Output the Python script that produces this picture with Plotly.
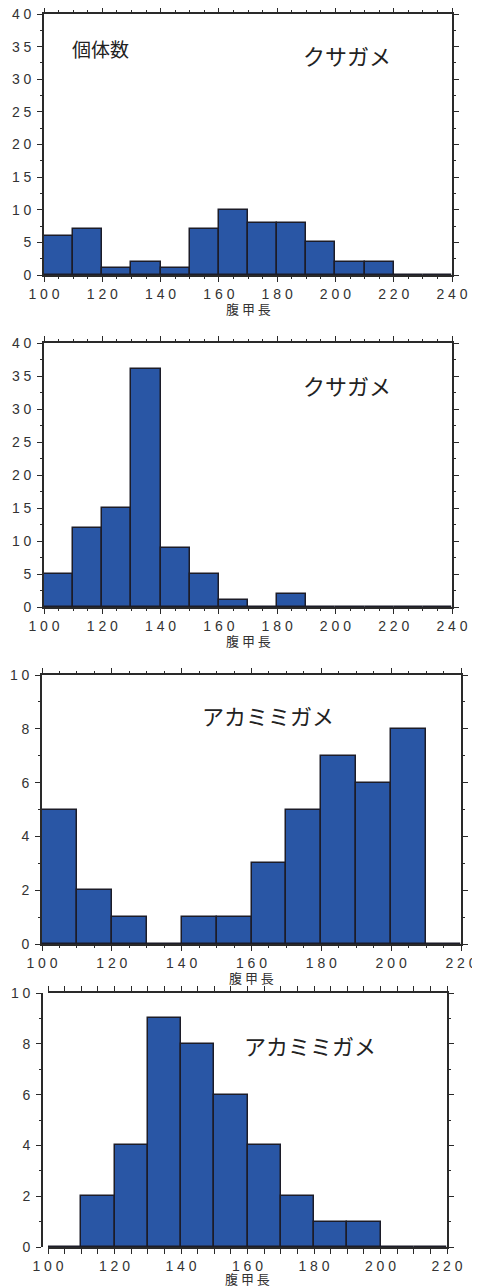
import plotly.graph_objects as go

# ---------------- data ----------------
bin_width = 10
kusa1_starts = [100, 110, 120, 130, 140, 150, 160, 170, 180, 190, 200, 210, 220, 230]
kusa1_counts = [6, 7, 1, 2, 1, 7, 10, 8, 8, 5, 2, 2, 0, 0]

kusa2_starts = [100, 110, 120, 130, 140, 150, 160, 170, 180, 190, 200, 210, 220, 230]
kusa2_counts = [5, 12, 15, 36, 9, 5, 1, 0, 2, 0, 0, 0, 0, 0]

aka1_starts = [100, 110, 120, 130, 140, 150, 160, 170, 180, 190, 200, 210]
aka1_counts = [5, 2, 1, 0, 1, 1, 3, 5, 7, 6, 8, 0]

aka2_starts = [100, 110, 120, 130, 140, 150, 160, 170, 180, 190, 200, 210]
aka2_counts = [0, 2, 4, 9, 8, 6, 4, 2, 1, 1, 0, 0]

x_ticks_240 = [100, 120, 140, 160, 180, 200, 220, 240]
x_ticks_220 = [100, 120, 140, 160, 180, 200, 220]
y_ticks_40 = [0, 5, 10, 15, 20, 25, 30, 35, 40]
y_ticks_10 = [0, 2, 4, 6, 8, 10]

x_title = "腹甲長"
y_title = "個体数"
name_kusa = "クサガメ"
name_aka = "アカミミガメ"

# ---------------- styling ----------------
PAGE_OFF = 8                     # page body margin around the figure
W, H = 480 - PAGE_OFF, 1288 - PAGE_OFF
BAR_COLOR = "#2956a5"
EDGE = "#1c1c28"
AXIS = "#2a2a2a"
TXT = "#333333"
TICK_FONT = dict(family="Liberation Sans, Arial, sans-serif", size=14, color=TXT)
JP_FONT = "Noto Sans CJK JP, sans-serif"
SP = " "


def spaced(v):
    return SP.join(str(v))


def px_x(p):
    return (p - PAGE_OFF) / W


def px_y(p):
    return 1 - (p - PAGE_OFF) / H


fig = go.Figure()

panels = [
    # starts, counts, xrange, xticks, ymax, yticks, minor dtick, box(l, r, t, b), yaxis pos, title y
    (kusa1_starts, kusa1_counts, [100, 240], x_ticks_240, 40, y_ticks_40, 2.5, (44, 452, 14, 275), None, 308),
    (kusa2_starts, kusa2_counts, [100, 240], x_ticks_240, 40, y_ticks_40, 2.5, (44, 452, 343, 607), None, 640),
    (aka1_starts, aka1_counts, [100, 220], x_ticks_220, 10, y_ticks_10, 1, (42, 461, 675, 944), None, 977),
    (aka2_starts, aka2_counts, [100, 220], x_ticks_220, 10, y_ticks_10, 1, (48, 447, 993, 1247), 42, 1278),
]

for i, (starts, counts, xr, xt, ymax, yt, ymin_dt, (l, r, t, b), ypos, ty) in enumerate(panels, start=1):
    xa = "x" if i == 1 else f"x{i}"
    ya = "y" if i == 1 else f"y{i}"
    fig.add_trace(go.Bar(
        x=[s + bin_width / 2 for s in starts],
        y=counts,
        width=bin_width,
        marker=dict(color=BAR_COLOR, line=dict(color=EDGE, width=1.5)),
        xaxis=xa, yaxis=ya, showlegend=False, hoverinfo="x+y",
    ))
    xkey = "xaxis" if i == 1 else f"xaxis{i}"
    ykey = "yaxis" if i == 1 else f"yaxis{i}"
    fig.layout[xkey] = dict(
        domain=[px_x(l), px_x(r)], anchor=ya, range=xr, automargin=False,
        tickmode="array", tickvals=xt, ticktext=[spaced(v) for v in xt],
        ticks="outside", ticklen=5, tickwidth=1.3, tickcolor=AXIS,
        showline=True, linecolor=AXIS, linewidth=1.6, mirror="allticks",
        minor=dict(dtick=5, tick0=100, ticks="outside", ticklen=2.5, tickwidth=1, tickcolor=AXIS),
        showgrid=False, zeroline=False, tickfont=TICK_FONT, ticklabelstandoff=0,
        ticklabeloverflow="allow", fixedrange=True,
    )
    ydict = dict(
        domain=[px_y(b), px_y(t)], range=[0, ymax], automargin=False,
        tickmode="array", tickvals=yt, ticktext=[spaced(v) for v in yt],
        ticks="outside", ticklen=5, tickwidth=1.3, tickcolor=AXIS,
        showline=True, linecolor=AXIS, linewidth=1.6, mirror="allticks",
        minor=dict(dtick=ymin_dt, tick0=0, ticks="outside", ticklen=2.5, tickwidth=1, tickcolor=AXIS),
        showgrid=False, zeroline=False, tickfont=TICK_FONT, ticklabelstandoff=3,
        ticklabeloverflow="allow", fixedrange=True,
    )
    if ypos is None:
        ydict["anchor"] = xa
    else:
        ydict["anchor"] = "free"
        ydict["position"] = px_x(ypos)
        ydict["mirror"] = False
    fig.layout[ykey] = ydict

    # x axis title
    fig.add_annotation(
        x=px_x((l + r) / 2), y=px_y(ty), xref="paper", yref="paper",
        text=SP.join(x_title), showarrow=False,
        font=dict(family=JP_FONT, size=13, color=TXT),
        xanchor="center", yanchor="middle",
    )

# panel 4: right spine, drawn with an overlaying axis (the left one is detached)
fig.layout["yaxis5"] = dict(
    domain=[px_y(1247), px_y(993)], range=[0, 10], anchor="x4", side="right",
    overlaying="y4", showticklabels=False, automargin=False,
    tickmode="array", tickvals=y_ticks_10,
    ticks="outside", ticklen=5, tickwidth=1.3, tickcolor=AXIS,
    showline=True, linecolor=AXIS, linewidth=1.6,
    minor=dict(dtick=1, tick0=0, ticks="outside", ticklen=2.5, tickwidth=1, tickcolor=AXIS),
    showgrid=False, zeroline=False, fixedrange=True,
)
fig.add_trace(go.Scatter(x=[], y=[], xaxis="x4", yaxis="y5", showlegend=False))

# in-plot labels
labels = [
    (y_title, 100, 48, 19),
    (name_kusa, 347, 55, 22),
    (name_kusa, 347, 385, 22),
    (name_aka, 268, 715, 22),
    (name_aka, 310, 1045, 22),
]
for txt, cx, cy, sz in labels:
    fig.add_annotation(
        x=px_x(cx), y=px_y(cy), xref="paper", yref="paper",
        text=txt, showarrow=False,
        font=dict(family=JP_FONT, size=sz, color="#222222"),
        xanchor="center", yanchor="middle",
    )

fig.update_layout(
    width=W, height=H,
    margin=dict(l=0, r=0, t=0, b=0, autoexpand=False),
    paper_bgcolor="white", plot_bgcolor="white",
    bargap=0, showlegend=False,
)

fig.write_html("out.html")
